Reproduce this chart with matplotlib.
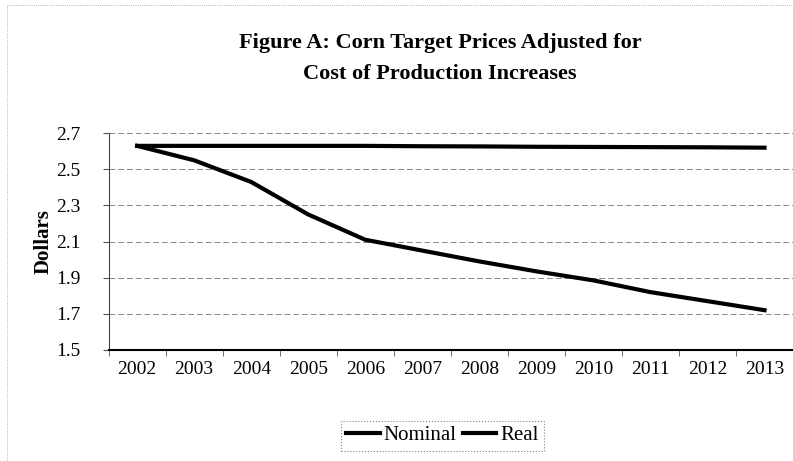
import matplotlib.pyplot as plt
from matplotlib.patches import Rectangle
import numpy as np

# Corn target prices, dollars per bushel
years = ["2002", "2003", "2004", "2005", "2006", "2007",
         "2008", "2009", "2010", "2011", "2012", "2013"]
nominal = [2.63, 2.63, 2.63, 2.63, 2.63, 2.628,
           2.627, 2.625, 2.624, 2.623, 2.622, 2.62]
real = [2.63, 2.55, 2.43, 2.25, 2.11, 2.05,
        1.99, 1.935, 1.885, 1.82, 1.77, 1.72]
y_ticks = [1.5, 1.7, 1.9, 2.1, 2.3, 2.5, 2.7]

plt.rcParams["font.family"] = ["Liberation Serif", "DejaVu Serif"]

fig = plt.figure(figsize=(7.93, 4.61), dpi=100)
ax = fig.add_axes([0.137, 0.241, 0.863, 0.470])

x = np.arange(len(years))
ax.plot(x, nominal, color="black", lw=3, label="Nominal")
ax.plot(x, real, color="black", lw=3, label="Real")

ax.set_xlim(-0.5, len(years) - 0.5)
ax.set_ylim(1.5, 2.7)
ax.set_yticks(y_ticks)
ax.set_yticklabels([f"{v:.1f}" for v in y_ticks], fontsize=14)
ax.set_xticks(x)
ax.set_xticklabels(years, fontsize=14)
ax.set_xticks(np.arange(len(years) + 1) - 0.5, minor=True)
ax.tick_params(axis="x", which="major", length=0, pad=8)
ax.tick_params(axis="x", which="minor", length=4, color="#555555")
ax.tick_params(axis="y", length=4, color="#555555", pad=16)

ax.grid(axis="y", color="#888888", lw=0.7, ls=(0, (6, 3)))
ax.set_axisbelow(True)
for side in ["top", "right"]:
    ax.spines[side].set_visible(False)
ax.spines["left"].set_color("#444444")
ax.spines["bottom"].set_linewidth(1.5)

ax.set_ylabel("Dollars", fontsize=15, fontweight="bold", labelpad=2)

fig.text(0.555, 0.907, "Figure A: Corn Target Prices Adjusted for",
         ha="center", va="center", fontsize=16, fontweight="bold")
fig.text(0.555, 0.840, "Cost of Production Increases",
         ha="center", va="center", fontsize=16, fontweight="bold")

leg = ax.legend(loc="center", bbox_to_anchor=(0.488, -0.396), ncol=2,
                fontsize=15, frameon=True, fancybox=False,
                handlelength=1.6, handletextpad=0.2, columnspacing=0.3,
                borderpad=0.25)
leg.get_frame().set_edgecolor("#666666")
leg.get_frame().set_linestyle(":")
leg.get_frame().set_linewidth(0.8)

# faint page border around the chart area
fig.patches.append(Rectangle((0.009, -0.05), 1.2, 1.04, transform=fig.transFigure,
                             fill=False, ec="#999999", lw=0.6, ls=":"))

plt.savefig("out.png", dpi=100)
